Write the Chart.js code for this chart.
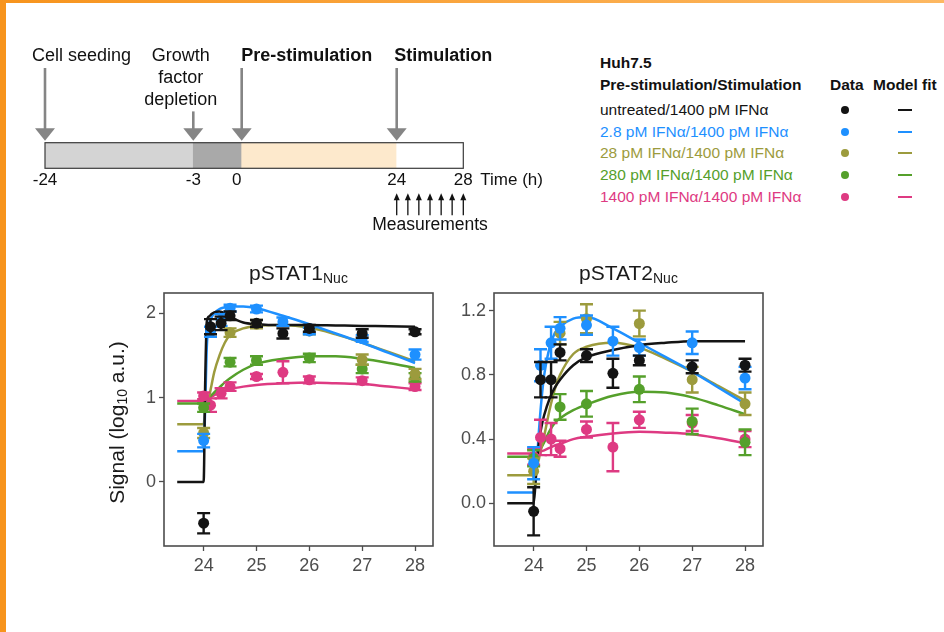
<!DOCTYPE html>
<html>
<head>
<meta charset="utf-8">
<script src="https://cdn.jsdelivr.net/npm/chart.js@4.4.1/dist/chart.umd.min.js"></script>
<style>
  html, body { margin: 0; padding: 0; background: #fff; }
  #page { position: relative; width: 944px; height: 632px; overflow: hidden; background: #fff;
          font-family: "Liberation Sans", Arial, Helvetica, sans-serif; }
  #edgeLeft { position: absolute; left: 0; top: 0; width: 6px; height: 632px; background: #F7941D; }
  #edgeTop { position: absolute; left: 0; top: 0; width: 944px; height: 3px;
             background: linear-gradient(to right, #F7941D, #FDB862); }
  canvas { position: absolute; }
  #timeline { left: 0; top: 0; }
  #p1 { left: 90px; top: 250px; }
  #p2 { left: 440px; top: 250px; }
  .lg { position: absolute; white-space: nowrap; font-size: 15.5px; line-height: 20px; color: #111; }
  .dot { position: absolute; width: 8px; height: 8px; border-radius: 50%; }
  .dash { position: absolute; width: 14px; height: 2px; }
</style>
</head>
<body>
<div id="page">
  <canvas id="timeline" width="560" height="240"></canvas>
  <canvas id="p1" width="350" height="330"></canvas>
  <canvas id="p2" width="330" height="330"></canvas>
  <div id="legend"></div>
  <div id="edgeLeft"></div>
  <div id="edgeTop"></div>
</div>
<script>
const FONT = '"Liberation Sans", Arial, Helvetica, sans-serif';

// experiment timeline (hours)
const phaseStart = [-24, -3, 0, 24];
const phaseEnd = [-3, 0, 24, 28];
const timelineTicks = [-24, -3, 0, 24, 28];
const eventTimes = [-24, -3, 0, 24];
const eventLabels = [['Cell seeding'], ['Growth', 'factor', 'depletion'], ['Pre-stimulation'], ['Stimulation']];
const measurementTimes = [24, 24.67, 25.33, 26, 26.67, 27.33, 28];

// conditions
const conditionLabels = ['untreated/1400 pM IFNα', '2.8 pM IFNα/1400 pM IFNα', '28 pM IFNα/1400 pM IFNα',
  '280 pM IFNα/1400 pM IFNα', '1400 pM IFNα/1400 pM IFNα'];

// measurement times (h)
const timeAll = [24, 24.13, 24.33, 24.5, 25, 25.5, 26, 27, 28];
const timeFew = [24, 24.5, 25, 26, 27, 28];

// pSTAT1 nuclear, data and error
const s1Untreated = [-0.49, 1.84, 1.88, 1.97, 1.88, 1.76, 1.82, 1.76, 1.78];
const s1UntreatedErr = [0.12, 0.09, 0.08, 0.05, 0.04, 0.06, 0.04, 0.05, 0.03];
const s1Pre2p8 = [0.49, 1.78, 1.92, 2.06, 2.05, 1.90, 1.79, 1.70, 1.51];
const s1Pre2p8Err = [0.08, 0.06, 0.07, 0.04, 0.04, 0.05, 0.04, 0.04, 0.06];
const s1Pre28 = [0.58, 1.77, 1.87, 1.79, 1.45, 1.28];
const s1Pre28Err = [0.06, 0.05, 0.05, 0.04, 0.06, 0.06];
const s1Pre280 = [0.88, 1.42, 1.44, 1.47, 1.34, 1.24];
const s1Pre280Err = [0.05, 0.05, 0.05, 0.05, 0.05, 0.05];
const s1Pre1400 = [1.02, 0.91, 1.05, 1.13, 1.25, 1.30, 1.21, 1.20, 1.13];
const s1Pre1400Err = [0.04, 0.08, 0.06, 0.05, 0.03, 0.13, 0.04, 0.04, 0.04];

// pSTAT2 nuclear, data and error
const s2Untreated = [-0.05, 0.77, 0.77, 0.94, 0.92, 0.81, 0.89, 0.85, 0.86];
const s2UntreatedErr = [0.15, 0.11, 0.11, 0.05, 0.04, 0.09, 0.03, 0.04, 0.04];
const s2Pre2p8 = [0.25, 0.86, 1.00, 1.09, 1.11, 1.01, 0.97, 1.00, 0.78];
const s2Pre2p8Err = [0.10, 0.10, 0.10, 0.07, 0.06, 0.09, 0.05, 0.07, 0.07];
const s2Pre28 = [0.20, 1.06, 1.15, 1.12, 0.77, 0.62];
const s2Pre28Err = [0.08, 0.07, 0.09, 0.08, 0.08, 0.07];
const s2Pre280 = [0.28, 0.60, 0.62, 0.71, 0.51, 0.38];
const s2Pre280Err = [0.05, 0.08, 0.08, 0.08, 0.08, 0.08];
const s2Pre1400 = [0.29, 0.41, 0.40, 0.34, 0.46, 0.35, 0.52, 0.50, 0.40];
const s2Pre1400Err = [0.05, 0.11, 0.10, 0.05, 0.05, 0.15, 0.05, 0.05, 0.05];

// model fit
const fitTime = [23.5, 24, 24.03, 24.06, 24.1, 24.15, 24.2, 24.3, 24.4, 24.5, 24.75, 25, 25.5, 26, 26.5, 27, 27.5, 28];
const f1Untreated = [0, 0, 1.2, 1.9, 1.96, 1.99, 2.01, 2.02, 2.0, 1.96, 1.89, 1.87, 1.86, 1.86, 1.855, 1.85, 1.845, 1.84];
const f1Pre2p8 = [0.365, 0.365, 0.9, 1.6, 1.85, 1.95, 2.0, 2.05, 2.07, 2.08, 2.08, 2.06, 1.97, 1.87, 1.76, 1.65, 1.53, 1.41];
const f1Pre28 = [0.685, 0.685, 0.85, 0.93, 1.0, 1.15, 1.3, 1.5, 1.65, 1.74, 1.82, 1.85, 1.86, 1.83, 1.75, 1.65, 1.54, 1.43];
const f1Pre280 = [0.93, 0.93, 0.95, 0.97, 1.0, 1.03, 1.06, 1.12, 1.18, 1.23, 1.33, 1.40, 1.46, 1.49, 1.49, 1.46, 1.41, 1.35];
const f1Pre1400 = [0.96, 0.96, 0.97, 0.98, 0.99, 1.01, 1.03, 1.06, 1.08, 1.10, 1.13, 1.15, 1.17, 1.18, 1.17, 1.16, 1.13, 1.10];
const f2Untreated = [0, 0, 0.1, 0.25, 0.38, 0.48, 0.55, 0.65, 0.72, 0.77, 0.86, 0.91, 0.955, 0.985, 1.0, 1.01, 1.01, 1.01];
const f2Pre2p8 = [0.067, 0.067, 0.12, 0.25, 0.45, 0.65, 0.8, 0.97, 1.06, 1.10, 1.15, 1.16, 1.09, 1.0, 0.91, 0.82, 0.72, 0.62];
const f2Pre28 = [0.175, 0.175, 0.19, 0.22, 0.28, 0.35, 0.42, 0.58, 0.71, 0.8, 0.93, 0.975, 1.0, 0.97, 0.9, 0.82, 0.73, 0.64];
const f2Pre280 = [0.29, 0.29, 0.295, 0.30, 0.32, 0.35, 0.38, 0.45, 0.5, 0.53, 0.58, 0.615, 0.67, 0.695, 0.69, 0.66, 0.61, 0.555];
const f2Pre1400 = [0.31, 0.31, 0.31, 0.315, 0.32, 0.325, 0.33, 0.345, 0.36, 0.37, 0.40, 0.415, 0.435, 0.445, 0.44, 0.43, 0.405, 0.375];

// axis ticks
const xTickValues = [24, 25, 26, 27, 28];
const y1TickValues = [0, 1, 2];
const y2TickValues = [0, 0.4, 0.8, 1.2];

// styles
const conditionColors = ['#141414', '#1E90FF', '#9C9B3D', '#55A02B', '#DE3A82'];
const phaseColors = ['#D4D4D4', '#A9A9A9', '#FDE9CC', '#FFFFFF'];
const conditionTimes = [timeAll, timeAll, timeFew, timeFew, timeAll];

// ---------- timeline ----------
class SchematicScale extends Chart.LinearScale {
  getPixelForValue(value) {
    const st = this.options.stops;
    let dec = 0;
    for (let i = 1; i < st.length; i++) {
      if (value <= st[i][0] || i === st.length - 1) {
        const [t0, f0] = st[i - 1];
        const [t1, f1] = st[i];
        dec = f0 + (value - t0) / (t1 - t0) * (f1 - f0);
        break;
      }
    }
    return this.getPixelForDecimal(dec);
  }
}
SchematicScale.id = 'schematic';
Chart.register(SchematicScale);

function arrow(ctx, x, yFrom, yTip, headW, headH, color, lw) {
  const dir = yTip > yFrom ? 1 : -1;
  const base = yTip - dir * headH;
  ctx.strokeStyle = color;
  ctx.fillStyle = color;
  ctx.lineWidth = lw;
  ctx.beginPath();
  ctx.moveTo(x, yFrom);
  ctx.lineTo(x, base + dir);
  ctx.stroke();
  ctx.beginPath();
  ctx.moveTo(x - headW / 2, base);
  ctx.lineTo(x + headW / 2, base);
  ctx.lineTo(x, yTip);
  ctx.closePath();
  ctx.fill();
}

const timelineDecor = {
  id: 'timelineDecor',
  afterDraw(chart) {
    const ctx = chart.ctx;
    const xs = chart.scales.x;
    const a = chart.chartArea;
    ctx.save();
    // outline of the bar
    ctx.strokeStyle = '#3a3a3a';
    ctx.lineWidth = 1.2;
    const x0 = xs.getPixelForValue(phaseStart[0]);
    const x1 = xs.getPixelForValue(phaseEnd[phaseEnd.length - 1]);
    ctx.strokeRect(x0, a.top, x1 - x0, a.bottom - a.top);

    // tick labels
    ctx.fillStyle = '#111';
    ctx.font = '17px ' + FONT;
    ctx.textBaseline = 'middle';
    ctx.textAlign = 'center';
    timelineTicks.forEach(t => {
      const dx = t === 0 ? -5 : 0;
      ctx.fillText(String(t), xs.getPixelForValue(t) + dx, a.bottom + 12);
    });
    ctx.textAlign = 'left';
    ctx.fillText('Time (h)', x1 + 17, a.bottom + 12);

    // event arrows + labels
    const labelShift = [36.5, -12.5, 65, 46.5];
    eventTimes.forEach((t, i) => {
      const x = xs.getPixelForValue(t);
      const lines = eventLabels[i];
      const bold = i >= 2;
      ctx.font = (bold ? 'bold ' : '') + '18px ' + FONT;
      ctx.textAlign = 'center';
      ctx.fillStyle = '#111';
      lines.forEach((ln, k) => ctx.fillText(ln, x + labelShift[i], 56.5 + k * 21.7));
      const yTop = 56.5 + (lines.length - 1) * 21.7 + 11.5;
      arrow(ctx, x, yTop, a.top - 2, 20, 12.5, '#858585', 2.6);
    });

    // measurement arrows
    measurementTimes.forEach(t => {
      arrow(ctx, xs.getPixelForValue(t), a.bottom + 47, a.bottom + 25, 6, 7, '#111', 1.3);
    });
    ctx.font = '17.5px ' + FONT;
    ctx.textAlign = 'center';
    ctx.fillStyle = '#111';
    ctx.fillText('Measurements', (xs.getPixelForValue(24) + xs.getPixelForValue(28)) / 2, a.bottom + 57);
    ctx.restore();
  }
};

new Chart(document.getElementById('timeline'), {
  type: 'bar',
  data: {
    labels: ['timeline'],
    datasets: [{
      data: phaseStart.map((s, i) => ({ x: [s, phaseEnd[i]], y: 'timeline' })),
      backgroundColor: phaseColors,
      borderWidth: 0,
      barPercentage: 1,
      categoryPercentage: 1
    }]
  },
  options: {
    indexAxis: 'y',
    responsive: false,
    animation: false,
    layout: { padding: { left: 45, right: 96.7, top: 142.7, bottom: 71.7 } },
    plugins: { legend: { display: false }, tooltip: { enabled: false } },
    scales: {
      x: { type: 'schematic', min: -24, max: 28, display: false,
           stops: [[-24, 0], [-3, 0.3545], [0, 0.4702], [24, 0.8408], [28, 1]] },
      y: { type: 'category', display: false }
    }
  },
  plugins: [timelineDecor]
});

// ---------- panels ----------
const errorBars = {
  id: 'errorBars',
  beforeDatasetDraw(chart, args) {
    const ds = chart.data.datasets[args.index];
    if (!ds.errors) return;
    const xs = chart.scales.x, ys = chart.scales.y, ctx = chart.ctx;
    ctx.save();
    ctx.strokeStyle = ds.backgroundColor;
    ctx.lineWidth = 2.4;
    ds.data.forEach((p, j) => {
      const x = xs.getPixelForValue(p.x);
      const lo = ys.getPixelForValue(p.y - ds.errors[j]);
      const hi = ys.getPixelForValue(p.y + ds.errors[j]);
      ctx.beginPath();
      ctx.moveTo(x, lo); ctx.lineTo(x, hi);
      ctx.moveTo(x - 6.5, lo); ctx.lineTo(x + 6.5, lo);
      ctx.moveTo(x - 6.5, hi); ctx.lineTo(x + 6.5, hi);
      ctx.stroke();
    });
    ctx.restore();
  }
};

function subText(ctx, main, sub, mainPx, subPx, x, y, drop) {
  const parts = main.split('|');
  ctx.font = mainPx + 'px ' + FONT;
  const w1 = ctx.measureText(parts[0]).width;
  const w3 = parts[1] ? ctx.measureText(parts[1]).width : 0;
  ctx.font = subPx + 'px ' + FONT;
  const w2 = ctx.measureText(sub).width;
  let cx = x - (w1 + w2 + w3) / 2;
  ctx.textAlign = 'left';
  ctx.font = mainPx + 'px ' + FONT;
  ctx.fillText(parts[0], cx, y);
  cx += w1;
  ctx.font = subPx + 'px ' + FONT;
  ctx.fillText(sub, cx, y + drop);
  cx += w2;
  if (parts[1]) {
    ctx.font = mainPx + 'px ' + FONT;
    ctx.fillText(parts[1], cx, y);
  }
}

const panelFrame = {
  id: 'panelFrame',
  afterDatasetsDraw(chart, args, opts) {
    const ctx = chart.ctx;
    const a = chart.chartArea;
    ctx.save();
    ctx.strokeStyle = '#4d4d4d';
    ctx.lineWidth = 1.6;
    ctx.strokeRect(a.left, a.top, a.right - a.left, a.bottom - a.top);
    ctx.fillStyle = '#1a1a1a';
    ctx.textBaseline = 'alphabetic';
    subText(ctx, opts.title, 'Nuc', 21, 14, (a.left + a.right) / 2, a.top - 13, 2.5);
    if (opts.yTitle) {
      ctx.translate(a.left - 46, (a.top + a.bottom) / 2 + 3);
      ctx.rotate(-Math.PI / 2);
      ctx.textBaseline = 'middle';
      subText(ctx, 'Signal (log| a.u.)', '10', 21, 14, 0, 0, 5);
    }
    ctx.restore();
  }
};

function makePanel(id, title, values, errors, fits, yMin, yMax, yTicks, yWidth, yFmt, yTitle) {
  const datasets = [];
  values.forEach((vals, i) => {
    datasets.push({
      type: 'scatter',
      data: conditionTimes[i].map((t, j) => ({ x: t, y: vals[j] })),
      errors: errors[i],
      backgroundColor: conditionColors[i],
      borderWidth: 0,
      pointRadius: 5.5,
      order: 0
    });
  });
  fits.forEach((vals, i) => {
    datasets.push({
      type: 'line',
      data: fitTime.map((t, j) => ({ x: t, y: vals[j] })),
      borderColor: conditionColors[i],
      borderWidth: 2.5,
      pointRadius: 0,
      cubicInterpolationMode: 'monotone',
      fill: false,
      order: 1
    });
  });
  const tickFont = { size: 18, family: FONT };
  return new Chart(document.getElementById(id), {
    data: { datasets },
    options: {
      responsive: false,
      animation: false,
      layout: { padding: { top: 43, right: 7, left: 0, bottom: 0 } },
      plugins: {
        legend: { display: false },
        tooltip: { enabled: false },
        panelFrame: { title, yTitle }
      },
      scales: {
        x: {
          type: 'linear', min: 23.25, max: 28.34,
          afterBuildTicks: s => { s.ticks = xTickValues.map(v => ({ value: v })); },
          afterFit: s => { s.height = 34; },
          grid: { drawOnChartArea: false, tickLength: 5, tickColor: '#4d4d4d', tickWidth: 1.3 },
          border: { display: false },
          ticks: { color: '#4d4d4d', font: tickFont, padding: 4, maxRotation: 0, callback: v => String(v) }
        },
        y: {
          type: 'linear', min: yMin, max: yMax,
          afterBuildTicks: s => { s.ticks = yTicks.map(v => ({ value: v })); },
          afterFit: s => { s.width = yWidth; },
          grid: { drawOnChartArea: false, tickLength: 5, tickColor: '#4d4d4d', tickWidth: 1.3 },
          border: { display: false },
          ticks: { color: '#4d4d4d', font: tickFont, padding: 3, callback: yFmt }
        }
      }
    },
    plugins: [errorBars, panelFrame]
  });
}

makePanel('p1', 'pSTAT1',
  [s1Untreated, s1Pre2p8, s1Pre28, s1Pre280, s1Pre1400],
  [s1UntreatedErr, s1Pre2p8Err, s1Pre28Err, s1Pre280Err, s1Pre1400Err],
  [f1Untreated, f1Pre2p8, f1Pre28, f1Pre280, f1Pre1400],
  -0.76, 2.24, y1TickValues, 74, v => String(v), true);

makePanel('p2', 'pSTAT2',
  [s2Untreated, s2Pre2p8, s2Pre28, s2Pre280, s2Pre1400],
  [s2UntreatedErr, s2Pre2p8Err, s2Pre28Err, s2Pre280Err, s2Pre1400Err],
  [f2Untreated, f2Pre2p8, f2Pre28, f2Pre280, f2Pre1400],
  -0.266, 1.31, y2TickValues, 54, v => v.toFixed(1), false);

// ---------- legend ----------
const legend = document.getElementById('legend');
function put(cls, html, left, top, style) {
  const d = document.createElement('div');
  d.className = cls;
  d.innerHTML = html;
  d.style.left = left + 'px';
  d.style.top = top + 'px';
  Object.assign(d.style, style || {});
  legend.appendChild(d);
}
put('lg', 'Huh7.5', 600, 53, { fontWeight: 'bold' });
put('lg', 'Pre-stimulation/Stimulation', 600, 75, { fontWeight: 'bold' });
put('lg', 'Data', 830, 75, { fontWeight: 'bold' });
put('lg', 'Model fit', 873, 75, { fontWeight: 'bold' });
conditionLabels.forEach((lab, i) => {
  const cy = 110 + i * 21.7;
  put('lg', lab, 600, cy - 10, { color: conditionColors[i] });
  put('dot', '', 841, cy - 4, { background: conditionColors[i] });
  put('dash', '', 898, cy - 1, { background: conditionColors[i] });
});
</script>
</body>
</html>
